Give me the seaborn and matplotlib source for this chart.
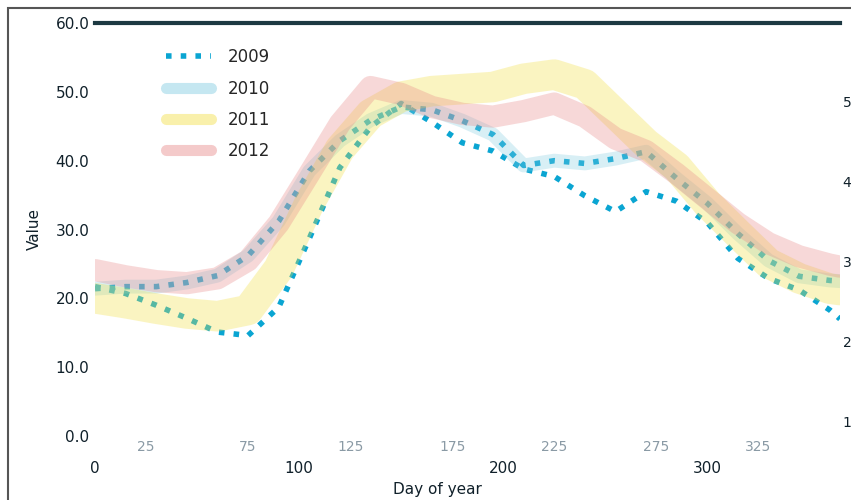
import matplotlib
matplotlib.use("Agg")
import matplotlib.pyplot as plt
from matplotlib.lines import Line2D
from matplotlib.patches import Rectangle
import seaborn as sns
import pandas as pd

# ---- data ----
days = [0, 15, 30, 45, 60, 75, 90, 105, 120, 135, 150, 165, 180,
        195, 210, 225, 240, 255, 270, 285, 300, 315, 330, 345, 360, 365]
y2009 = [21.7, 20.7, 19.0, 17.1, 15.1, 14.6, 18.7, 28.7, 39.0, 44.9, 48.3, 45.6, 42.6,
         41.4, 38.8, 37.7, 34.9, 32.6, 35.5, 34.1, 31.0, 25.8, 22.9, 21.2, 18.3, 17.0]
y2010 = [21.4, 21.7, 21.7, 22.3, 23.3, 26.2, 31.2, 38.5, 42.9, 45.9, 47.8, 47.4, 45.8,
         43.8, 39.3, 40.0, 39.6, 40.3, 41.3, 37.4, 33.8, 29.4, 25.5, 23.2, 22.6, 22.5]
y2011 = [20.0, 19.3, 18.5, 17.8, 17.4, 18.3, 24.3, 33.8, 41.7, 46.8, 49.3, 50.1, 50.4,
         50.7, 51.9, 52.5, 51.1, 46.8, 42.5, 39.1, 33.8, 29.4, 25.1, 22.9, 21.4, 21.2]
y2012 = [24.1, 23.2, 22.5, 22.2, 22.9, 25.5, 30.9, 38.1, 45.4, 50.7, 49.7, 47.8, 46.8,
         46.4, 47.2, 48.3, 46.4, 43.2, 41.4, 38.1, 34.5, 30.9, 28.0, 26.1, 24.9, 24.6]
years = ["2009", "2010", "2011", "2012"]
left_ticks = [0, 10, 20, 30, 40, 50, 60]
right_ticks = [0, 1, 2, 3, 4]
right_labels = ["1", "2", "3", "4", "5"]
major_x = [0, 100, 200, 300]
minor_x = [25, 75, 125, 175, 225, 275, 325]

df = pd.DataFrame({"day": days, "2009": y2009, "2010": y2010,
                   "2011": y2011, "2012": y2012})

sns.set_theme(style="white")
plt.rcParams["font.family"] = ["DejaVu Sans"]

fig = plt.figure(figsize=(8.51, 5.0), dpi=100)
ax = fig.add_axes([95 / 851, 1 - 436 / 500, 745 / 851, 413 / 500])

c_blue = "#0aa5d2"
c_lblue = "#7fcbe0"
c_yellow = "#f2df45"
c_pink = "#e88a8a"

# dotted lines (under the translucent bands)
sns.lineplot(data=df, x="day", y="2009", ax=ax, color=c_blue, linestyle=":",
             linewidth=4, zorder=2)
sns.lineplot(data=df, x="day", y="2010", ax=ax, color=c_blue, linestyle=":",
             linewidth=4, zorder=2)
# translucent wide bands
sns.lineplot(data=df, x="day", y="2010", ax=ax, color=c_lblue, linewidth=10,
             alpha=0.3, zorder=3, solid_capstyle="round")
sns.lineplot(data=df, x="day", y="2011", ax=ax, color=c_yellow, linewidth=22,
             alpha=0.33, zorder=3, solid_capstyle="round")
sns.lineplot(data=df, x="day", y="2012", ax=ax, color=c_pink, linewidth=16,
             alpha=0.33, zorder=3, solid_capstyle="round")

ax.set_xlim(0, 365)
ax.set_ylim(0, 60)
ax.set_yticks(left_ticks)
ax.set_yticklabels([f"{v:.1f}" for v in left_ticks])
ax.set_xticks(major_x)
ax.set_xticklabels([str(v) for v in major_x])
ax.set_xticks(minor_x, minor=True)
ax.set_xticklabels([str(v) for v in minor_x], minor=True)
ax.tick_params(axis="x", which="major", length=0, pad=18, labelsize=11,
               labelcolor="#10202a")
ax.tick_params(axis="x", which="minor", length=0, pad=3, labelsize=10,
               labelcolor="#8a9aa5")
ax.tick_params(axis="y", length=0, pad=4, labelsize=11, labelcolor="#10202a")
ax.set_xlabel("Day of year", fontsize=11, color="#10202a")
ax.xaxis.set_label_coords(0.46, -0.112)
ax.set_ylabel("Value", fontsize=11, color="#10202a", labelpad=10)

for side in ["left", "right", "bottom"]:
    ax.spines[side].set_visible(False)
ax.spines["top"].set_color("#1d3942")
ax.spines["top"].set_linewidth(3)

twin = ax.twinx()
twin.set_ylim(-0.1875, 4.9875)
twin.set_yticks(right_ticks)
twin.set_yticklabels(right_labels)
twin.tick_params(axis="y", length=0, pad=2, labelsize=10, labelcolor="#10202a")
for side in ["left", "right", "bottom", "top"]:
    twin.spines[side].set_visible(False)

handles = [
    Line2D([], [], color=c_blue, linestyle=":", linewidth=4),
    Line2D([], [], color=c_lblue, linewidth=8, alpha=0.45),
    Line2D([], [], color=c_yellow, linewidth=8, alpha=0.45),
    Line2D([], [], color=c_pink, linewidth=8, alpha=0.45),
]
ax.legend(handles, years, loc="upper left", bbox_to_anchor=(0.075, 0.975),
          frameon=False, fontsize=12, handlelength=2.7, labelspacing=0.8,
          handletextpad=1.0)

fig.add_artist(Rectangle((8 / 851, -0.05), 1.2, 1 - 8 / 500 + 0.05,
                         transform=fig.transFigure, fill=False,
                         edgecolor="#555555", linewidth=1.5))

fig.savefig("out.png", dpi=100)
